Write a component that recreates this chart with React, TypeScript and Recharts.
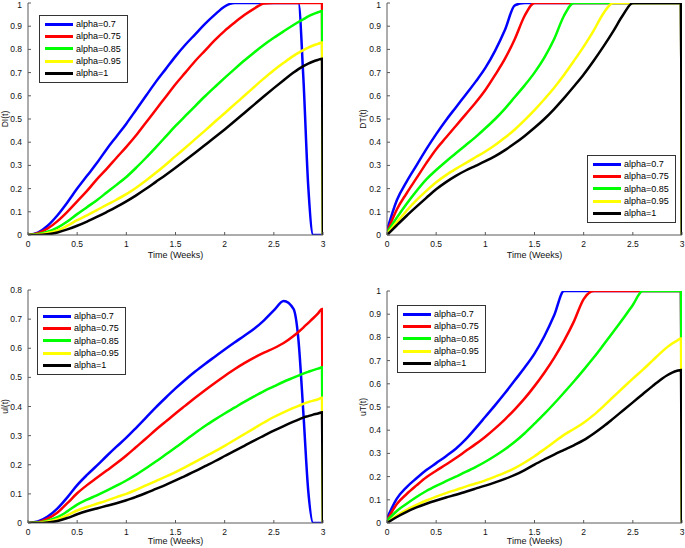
import { LineChart, Line, XAxis, YAxis, Legend } from "recharts";

const time = [
  0, 0.1, 0.2, 0.3, 0.4, 0.5, 0.6, 0.7, 0.8, 0.9, 1, 1.1, 1.2, 1.3, 1.4, 1.5, 1.6, 1.7, 1.8, 1.9, 2, 2.1,
  2.2, 2.3, 2.4, 2.5, 2.6, 2.7, 2.75, 2.8, 2.85, 2.9, 2.95, 2.99, 3,
];

const alphaNames = ["alpha=0.7", "alpha=0.75", "alpha=0.85", "alpha=0.95", "alpha=1"];
const alphaColors = ["#0000ff", "#ff0000", "#00ff00", "#ffff00", "#000000"];

const xTicks = [0, 0.5, 1, 1.5, 2, 2.5, 3];
const yTicksOne = [0, 0.1, 0.2, 0.3, 0.4, 0.5, 0.6, 0.7, 0.8, 0.9, 1];
const yTicksUl = [0, 0.1, 0.2, 0.3, 0.4, 0.5, 0.6, 0.7, 0.8];

// DI(t)
const diBlue = [0, 0.01, 0.04, 0.085, 0.14, 0.2, 0.255, 0.31, 0.37, 0.425, 0.48, 0.54, 0.6, 0.66, 0.715, 0.77, 0.82, 0.865, 0.91, 0.95, 0.985, 1, 1, 1, 1, 1, 1, 1, 1, 0.68, 0.21, 0, 0, 0, 0];
const diRed = [0, 0.008, 0.028, 0.06, 0.1, 0.145, 0.19, 0.24, 0.285, 0.333, 0.38, 0.43, 0.485, 0.54, 0.595, 0.65, 0.7, 0.75, 0.795, 0.84, 0.88, 0.915, 0.948, 0.976, 0.998, 1, 1, 1, 1, 1, 1, 1, 1, 1, 0];
const diGreen = [0, 0.004, 0.014, 0.032, 0.058, 0.09, 0.12, 0.15, 0.183, 0.216, 0.25, 0.29, 0.333, 0.378, 0.424, 0.47, 0.513, 0.556, 0.598, 0.638, 0.677, 0.715, 0.752, 0.787, 0.82, 0.85, 0.878, 0.905, 0.918, 0.93, 0.942, 0.952, 0.96, 0.965, 0];
const diYellow = [0, 0.002, 0.009, 0.02, 0.04, 0.064, 0.085, 0.107, 0.13, 0.152, 0.176, 0.204, 0.235, 0.268, 0.303, 0.34, 0.376, 0.413, 0.45, 0.488, 0.525, 0.563, 0.6, 0.638, 0.675, 0.71, 0.742, 0.772, 0.785, 0.797, 0.808, 0.817, 0.824, 0.83, 0];
const diBlack = [0, 0, 0.003, 0.011, 0.024, 0.04, 0.058, 0.078, 0.099, 0.121, 0.145, 0.171, 0.199, 0.229, 0.259, 0.29, 0.322, 0.355, 0.388, 0.421, 0.455, 0.49, 0.526, 0.562, 0.598, 0.633, 0.667, 0.7, 0.715, 0.728, 0.739, 0.748, 0.755, 0.76, 0];

// DT(t)
const dtBlue = [0.02, 0.15, 0.23, 0.3, 0.37, 0.435, 0.495, 0.55, 0.605, 0.66, 0.72, 0.795, 0.885, 0.99, 1, 1, 1, 1, 1, 1, 1, 1, 1, 1, 1, 1, 1, 1, 1, 1, 1, 1, 1, 1, 0];
const dtRed = [0.01, 0.11, 0.18, 0.245, 0.31, 0.37, 0.42, 0.47, 0.52, 0.57, 0.625, 0.69, 0.76, 0.845, 0.945, 1, 1, 1, 1, 1, 1, 1, 1, 1, 1, 1, 1, 1, 1, 1, 1, 1, 1, 1, 0];
const dtGreen = [0.01, 0.075, 0.135, 0.19, 0.24, 0.28, 0.317, 0.352, 0.387, 0.422, 0.46, 0.5, 0.545, 0.595, 0.645, 0.7, 0.765, 0.845, 0.945, 1, 1, 1, 1, 1, 1, 1, 1, 1, 1, 1, 1, 1, 1, 1, 0];
const dtYellow = [0.005, 0.055, 0.105, 0.15, 0.19, 0.227, 0.258, 0.285, 0.31, 0.335, 0.36, 0.388, 0.42, 0.455, 0.495, 0.538, 0.585, 0.635, 0.69, 0.75, 0.812, 0.88, 0.955, 1, 1, 1, 1, 1, 1, 1, 1, 1, 1, 1, 0];
const dtBlack = [0, 0.042, 0.083, 0.122, 0.16, 0.197, 0.228, 0.255, 0.278, 0.298, 0.318, 0.34, 0.366, 0.395, 0.427, 0.462, 0.5, 0.543, 0.59, 0.64, 0.692, 0.75, 0.812, 0.878, 0.948, 1, 1, 1, 1, 1, 1, 1, 1, 1, 0];

// ul(t)
const ulBlue = [0, 0.005, 0.022, 0.05, 0.088, 0.13, 0.165, 0.197, 0.23, 0.262, 0.293, 0.327, 0.362, 0.397, 0.43, 0.462, 0.492, 0.52, 0.546, 0.571, 0.596, 0.62, 0.643, 0.667, 0.696, 0.73, 0.762, 0.735, 0.63, 0.38, 0.11, 0, 0, 0, 0];
const ulRed = [0, 0.003, 0.015, 0.036, 0.068, 0.102, 0.13, 0.155, 0.18, 0.205, 0.232, 0.261, 0.29, 0.32, 0.348, 0.376, 0.403, 0.43, 0.456, 0.481, 0.505, 0.528, 0.549, 0.568, 0.585, 0.6, 0.618, 0.642, 0.656, 0.671, 0.687, 0.703, 0.72, 0.735, 0];
const ulGreen = [0, 0.002, 0.008, 0.02, 0.04, 0.063, 0.08, 0.095, 0.111, 0.128, 0.146, 0.166, 0.188, 0.211, 0.235, 0.259, 0.284, 0.309, 0.333, 0.355, 0.376, 0.396, 0.416, 0.435, 0.453, 0.469, 0.485, 0.499, 0.506, 0.513, 0.519, 0.525, 0.53, 0.535, 0];
const ulYellow = [0, 0.001, 0.005, 0.013, 0.027, 0.043, 0.055, 0.066, 0.077, 0.089, 0.1, 0.114, 0.129, 0.144, 0.159, 0.175, 0.192, 0.21, 0.228, 0.246, 0.265, 0.285, 0.305, 0.325, 0.345, 0.364, 0.38, 0.395, 0.402, 0.409, 0.415, 0.42, 0.425, 0.43, 0];
const ulBlack = [0, 0, 0.002, 0.007, 0.017, 0.03, 0.041, 0.05, 0.059, 0.068, 0.078, 0.09, 0.103, 0.117, 0.131, 0.146, 0.162, 0.178, 0.195, 0.212, 0.23, 0.248, 0.265, 0.283, 0.3, 0.317, 0.333, 0.348, 0.355, 0.362, 0.367, 0.372, 0.376, 0.38, 0];

// uT(t)
const utBlue = [0.02, 0.105, 0.155, 0.193, 0.228, 0.258, 0.288, 0.32, 0.36, 0.408, 0.458, 0.508, 0.56, 0.615, 0.67, 0.73, 0.805, 0.895, 1, 1, 1, 1, 1, 1, 1, 1, 1, 1, 1, 1, 1, 1, 1, 1, 0];
const utRed = [0.01, 0.082, 0.125, 0.162, 0.197, 0.225, 0.252, 0.28, 0.31, 0.34, 0.372, 0.408, 0.447, 0.49, 0.537, 0.59, 0.648, 0.712, 0.785, 0.868, 0.965, 1, 1, 1, 1, 1, 1, 1, 1, 1, 1, 1, 1, 1, 0];
const utGreen = [0.01, 0.052, 0.083, 0.112, 0.138, 0.16, 0.18, 0.2, 0.22, 0.241, 0.264, 0.29, 0.318, 0.35, 0.387, 0.428, 0.47, 0.515, 0.562, 0.61, 0.66, 0.712, 0.767, 0.823, 0.88, 0.94, 1, 1, 1, 1, 1, 1, 1, 1, 0];
const utYellow = [0, 0.032, 0.057, 0.078, 0.097, 0.114, 0.129, 0.143, 0.157, 0.17, 0.184, 0.2, 0.217, 0.237, 0.261, 0.288, 0.318, 0.349, 0.38, 0.405, 0.432, 0.465, 0.503, 0.543, 0.583, 0.622, 0.66, 0.7, 0.72, 0.74, 0.758, 0.774, 0.786, 0.795, 0];
const utBlack = [0, 0.026, 0.048, 0.067, 0.083, 0.097, 0.11, 0.122, 0.135, 0.148, 0.161, 0.175, 0.19, 0.207, 0.228, 0.252, 0.274, 0.295, 0.315, 0.335, 0.357, 0.385, 0.416, 0.45, 0.485, 0.52, 0.555, 0.59, 0.607, 0.623, 0.637, 0.648, 0.656, 0.66, 0];

const FONT = "'Liberation Sans', Arial, Helvetica, sans-serif";
const AXIS = "#5a5a5a";

const toRows = (series: number[][]) =>
  time.map((t, i) => {
    const row: any = { t };
    series.forEach((s, k) => (row["a" + k] = s[i]));
    return row;
  });

const renderLegend = ({ payload }: any) => (
  <div
    style={{
      border: "1px solid #333",
      background: "#fff",
      padding: "2px 6px 3px 5px",
      fontFamily: FONT,
      fontSize: 9,
      color: "#000",
      lineHeight: "12.3px",
    }}
  >
    {(payload || []).map((e: any) => (
      <div key={e.value} style={{ display: "flex", alignItems: "center", height: 12.3 }}>
        <span
          style={{
            display: "inline-block",
            width: 28,
            height: 0,
            borderTop: "3px solid " + e.color,
            marginRight: 3,
          }}
        />
        {e.value}
      </div>
    ))}
  </div>
);

const Panel = ({ left, top, width, height, margin, yWidth, xHeight, yLabel, yLabelOffset, xLabelOffset, yMax, yTicks, rows, legendPos }: any) => (
  <div style={{ position: "absolute", left, top }}>
    <LineChart width={width} height={height} data={rows} margin={margin}>
      <XAxis
        dataKey="t"
        type="number"
        domain={[0, 3]}
        ticks={xTicks}
        allowDataOverflow
        height={xHeight}
        stroke={AXIS}
        tickSize={-3}
        tickMargin={9}
        tick={{ fill: "#111", fontSize: 8.5, fontFamily: FONT }}
        label={{ value: "Time (Weeks)", position: "insideBottom", offset: xLabelOffset, fill: "#111", fontSize: 9, fontFamily: FONT }}
      />
      <XAxis xAxisId="top" orientation="top" type="number" domain={[0, 3]} ticks={xTicks} allowDataOverflow height={0} stroke={AXIS} tickSize={-3} tickFormatter={() => ""} />
      <YAxis
        type="number"
        domain={[0, yMax]}
        ticks={yTicks}
        allowDataOverflow
        width={yWidth}
        stroke={AXIS}
        tickSize={-3}
        tickMargin={9}
        tick={{ fill: "#111", fontSize: 8.5, fontFamily: FONT }}
        label={{ value: yLabel, angle: -90, position: "insideLeft", offset: yLabelOffset, fill: "#111", fontSize: 8.5, fontFamily: FONT, style: { textAnchor: "middle" } }}
      />
      <YAxis yAxisId="right" orientation="right" type="number" domain={[0, yMax]} ticks={yTicks} allowDataOverflow width={0} stroke={AXIS} tickSize={-3} tickFormatter={() => ""} />
      {alphaNames.map((n, k) => (
        <Line
          key={n}
          isAnimationActive={false}
          type="monotone"
          dataKey={"a" + k}
          name={n}
          stroke={alphaColors[k]}
          strokeWidth={2.5}
          dot={false}
          activeDot={false}
        />
      ))}
      <Legend layout="vertical" align="center" verticalAlign="middle" content={renderLegend} wrapperStyle={{ left: legendPos[0], top: legendPos[1], width: "auto" }} />
    </LineChart>
  </div>
);

export default function App() {
  return (
    <div style={{ position: "absolute", left: 0, top: 0, width: 685, height: 548, background: "#fff" }}>
      <Panel
        left={0} top={0} width={342} height={274}
        margin={{ top: 3, right: 19, left: 0, bottom: 0 }}
        yWidth={28} xHeight={39} xLabelOffset={16} yLabelOffset={5}
        yLabel="DI(t)" yMax={1} yTicks={yTicksOne}
        rows={toRows([diBlue, diRed, diGreen, diYellow, diBlack])}
        legendPos={[39, 15]}
      />
      <Panel
        left={342} top={0} width={343} height={274}
        margin={{ top: 3, right: 3, left: 0, bottom: 0 }}
        yWidth={45} xHeight={39} xLabelOffset={16} yLabelOffset={21}
        yLabel="DT(t)" yMax={1} yTicks={yTicksOne}
        rows={toRows([dtBlue, dtRed, dtGreen, dtYellow, dtBlack])}
        legendPos={[245, 155]}
      />
      <Panel
        left={0} top={274} width={342} height={274}
        margin={{ top: 16, right: 19, left: 0, bottom: 0 }}
        yWidth={28} xHeight={25} xLabelOffset={4} yLabelOffset={5}
        yLabel="ul(t)" yMax={0.8} yTicks={yTicksUl}
        rows={toRows([ulBlue, ulRed, ulGreen, ulYellow, ulBlack])}
        legendPos={[37, 33]}
      />
      <Panel
        left={342} top={274} width={343} height={274}
        margin={{ top: 17, right: 3, left: 0, bottom: 0 }}
        yWidth={45} xHeight={25} xLabelOffset={4} yLabelOffset={21}
        yLabel="uT(t)" yMax={1} yTicks={yTicksOne}
        rows={toRows([utBlue, utRed, utGreen, utYellow, utBlack])}
        legendPos={[55, 31]}
      />
    </div>
  );
}
